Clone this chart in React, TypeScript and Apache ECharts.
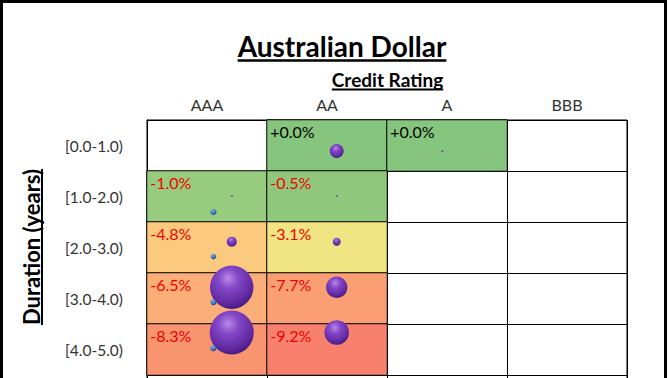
import React, { useEffect, useRef } from "react";
import * as echarts from "echarts";

// Categories
const ratings = ["AAA", "AA", "A", "BBB"];
const durations = ["[0.0-1.0)", "[1.0-2.0)", "[2.0-3.0)", "[3.0-4.0)", "[4.0-5.0)", "[5.0-7.0)"];
// Only the first rows are visible in the cropped view
const visibleRows = 5;

// Return per cell: [rating index, duration index, return %]
const returnCells: [number, number, number][] = [
  [1, 0, 0.0],
  [2, 0, 0.0],
  [0, 1, -1.0],
  [1, 1, -0.5],
  [0, 2, -4.8],
  [1, 2, -3.1],
  [0, 3, -6.5],
  [1, 3, -7.7],
  [0, 4, -8.3],
  [1, 4, -9.2],
];

// Portfolio bubbles: [rating position, average duration, weight %]
const portfolioBubbles: [number, number, number][] = [
  [1.581, 0.608, 2.4],
  [2.461, 0.608, 0.05],
  [0.706, 1.49, 0.05],
  [1.581, 1.49, 0.05],
  [0.706, 2.386, 1.24],
  [1.581, 2.386, 0.79],
  [0.706, 3.28, 23.3],
  [1.581, 3.28, 5.7],
  [0.706, 4.167, 24.0],
  [1.581, 4.167, 7.5],
];

// Benchmark bubbles: [rating position, average duration, weight %]
const benchmarkBubbles: [number, number, number][] = [
  [0.554, 1.804, 0.45],
  [0.554, 2.68, 0.36],
  [0.554, 3.575, 0.45],
  [0.554, 4.476, 0.45],
];

const FONT = "Lato";

function measure(text: string, font: string): number {
  const c = document.createElement("canvas");
  const ctx = c.getContext("2d");
  if (!ctx) return text.length * 10;
  ctx.font = font;
  return ctx.measureText(text).width;
}

export default function App() {
  const ref = useRef<HTMLDivElement>(null);

  useEffect(() => {
    if (!ref.current) return;
    const chart = echarts.init(ref.current, undefined, { renderer: "svg" });

    const maxW = 24;
    const sizeOf = (v: number[]) => Math.max(2, 44 * Math.sqrt(v[2] / maxW));

    const purple = new echarts.graphic.RadialGradient(0.42, 0.3, 0.78, [
      { offset: 0, color: "#B88AE6" },
      { offset: 0.3, color: "#8548C8" },
      { offset: 0.75, color: "#5E279E" },
      { offset: 1, color: "#3A1470" },
    ]);
    const blue = new echarts.graphic.RadialGradient(0.4, 0.3, 0.8, [
      { offset: 0, color: "#7FB0E8" },
      { offset: 0.5, color: "#3C74B8" },
      { offset: 1, color: "#1F4580" },
    ]);

    const titleText = "Australian Dollar";
    const titleFont = `bold 28px ${FONT}`;
    const titleW = measure(titleText, titleFont);
    const subText = "Credit Rating";
    const subFont = `bold 19px ${FONT}`;
    const subW = measure(subText, subFont);
    const yText = "Duration (years)";
    const yFont = `bold 22px ${FONT}`;
    const yW = measure(yText, yFont);

    const titleCx = 342;
    const subCx = 387.5;
    const yCy = 247;

    chart.setOption({
      animation: false,
      backgroundColor: "#ffffff",
      grid: [
        { left: 147, top: 120, width: 480, height: 306, show: true, borderColor: "#000", borderWidth: 1, backgroundColor: "#fff" },
        { left: 147, top: 120, width: 480, height: 306 },
      ],
      xAxis: [
        {
          type: "category",
          gridIndex: 0,
          data: ratings,
          position: "top",
          axisLine: { show: true, lineStyle: { color: "#000" } },
          axisTick: { show: false },
          axisLabel: { color: "#333", fontSize: 16, fontFamily: FONT, margin: 8 },
          splitLine: { show: true, lineStyle: { color: "#000", width: 1 } },
        },
        { type: "value", gridIndex: 1, min: 0, max: 4, show: false },
      ],
      yAxis: [
        {
          type: "category",
          gridIndex: 0,
          data: durations,
          inverse: true,
          axisLine: { show: true, lineStyle: { color: "#000" } },
          axisTick: { show: false, interval: 0 },
          axisLabel: {
            color: "#333",
            fontSize: 15.5,
            fontFamily: FONT,
            margin: 24,
            formatter: (v: string, i: number) => (i < visibleRows ? v : ""),
          },
          splitLine: { show: true, interval: 0, lineStyle: { color: "#000", width: 1 } },
        },
        { type: "value", gridIndex: 1, min: 0, max: 6, inverse: true, show: false },
      ],
      visualMap: {
        show: false,
        type: "continuous",
        seriesIndex: 0,
        dimension: 2,
        min: -10,
        max: 0,
        inRange: {
          color: [
            "#F76E6A",
            "#F8866E",
            "#FA9A72",
            "#FBA676",
            "#FCB67A",
            "#FDC77F",
            "#F9D881",
            "#F0E583",
            "#C3D880",
            "#97CB7D",
            "#86C57D",
          ],
        },
      },
      series: [
        {
          type: "heatmap",
          xAxisIndex: 0,
          yAxisIndex: 0,
          data: returnCells,
          itemStyle: { borderColor: "#000", borderWidth: 1 },
          label: {
            show: true,
            position: "insideTopLeft",
            distance: 4,
            formatter: (p: any) => {
              const v = p.value[2] as number;
              const s = (v >= 0 ? "+" : "") + v.toFixed(1) + "%";
              return v < 0 ? `{n|${s}}` : `{p|${s}}`;
            },
            rich: {
              n: { color: "#F00000", fontSize: 16, fontFamily: FONT },
              p: { color: "#000000", fontSize: 16, fontFamily: FONT },
            },
          },
          emphasis: { disabled: true },
        },
        {
          type: "scatter",
          xAxisIndex: 1,
          yAxisIndex: 1,
          data: portfolioBubbles,
          symbolSize: sizeOf,
          itemStyle: { color: purple, opacity: 1 },
          z: 5,
        },
        {
          type: "scatter",
          xAxisIndex: 1,
          yAxisIndex: 1,
          data: benchmarkBubbles,
          symbolSize: sizeOf,
          itemStyle: { color: blue, opacity: 1 },
          z: 6,
        },
      ],
      graphic: [
        {
          type: "rect",
          shape: { x: 1.5, y: 1.5, width: 664, height: 460 },
          style: { fill: "none", stroke: "#000", lineWidth: 3 },
          z: 100,
        },
        {
          type: "text",
          x: titleCx,
          y: 46,
          style: { text: titleText, font: titleFont, fill: "#000", textAlign: "center", textVerticalAlign: "middle" },
        },
        {
          type: "line",
          shape: { x1: titleCx - titleW / 2, y1: 60.5, x2: titleCx + titleW / 2, y2: 60.5 },
          style: { stroke: "#000", lineWidth: 2.5 },
        },
        {
          type: "text",
          x: subCx,
          y: 79,
          style: { text: subText, font: subFont, fill: "#000", textAlign: "center", textVerticalAlign: "middle" },
        },
        {
          type: "line",
          shape: { x1: subCx - subW / 2, y1: 89.5, x2: subCx + subW / 2, y2: 89.5 },
          style: { stroke: "#000", lineWidth: 2 },
        },
        {
          type: "text",
          x: 31,
          y: yCy,
          rotation: Math.PI / 2,
          style: { text: yText, font: yFont, fill: "#000", textAlign: "center", textVerticalAlign: "middle" },
        },
        {
          type: "line",
          shape: { x1: 42, y1: yCy - yW / 2, x2: 42, y2: yCy + yW / 2 },
          style: { stroke: "#000", lineWidth: 2 },
        },
      ],
    });

    return () => chart.dispose();
  }, []);

  return (
    <div style={{ position: "absolute", left: 0, top: 0, width: 668, height: 378, overflow: "hidden" }}>
      <div ref={ref} style={{ width: 668, height: 470 }} />
    </div>
  );
}
